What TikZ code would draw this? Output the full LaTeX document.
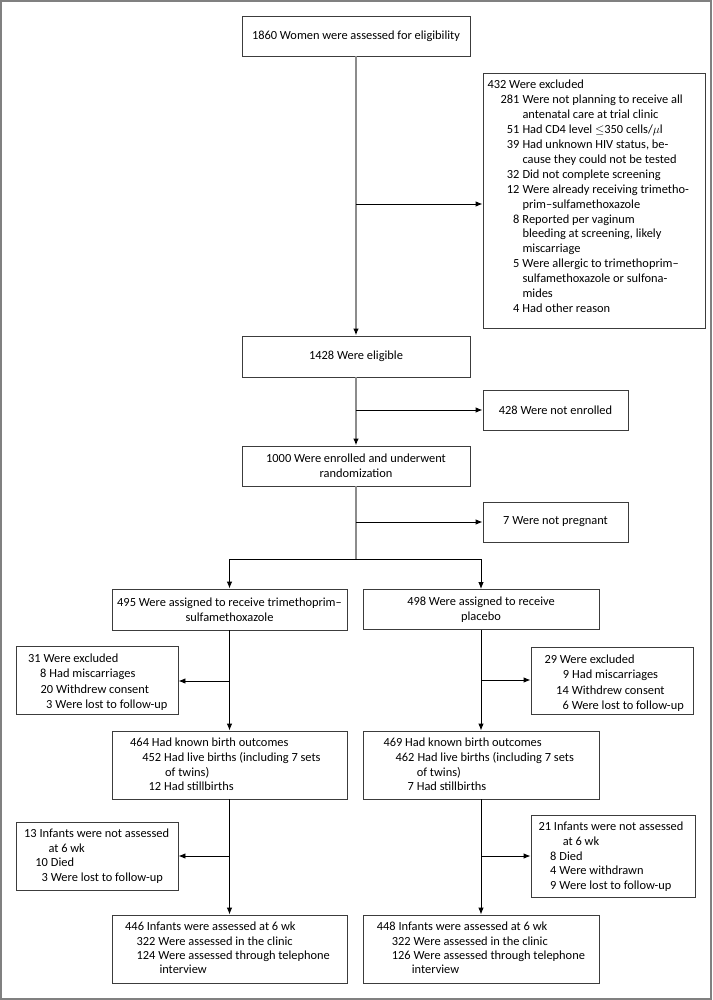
\documentclass[tikz,border=0pt]{standalone}
\usepackage{fontspec}
\setmainfont{Carlito}
\usetikzlibrary{arrows.meta}
\definecolor{boxc}{HTML}{3C3C3C}
\definecolor{trunkc}{HTML}{8C8C8C}
\definecolor{framec}{HTML}{808080}
\newcommand\fs[1]{\fontsize{12.4}{#1}\selectfont}
\newcommand\ind[1]{\hspace*{#1pt}}
\newcommand\nm[2]{\makebox[\dimexpr#1pt-3pt\relax][r]{#2}\hspace{3pt}}
\begin{document}
\begin{tikzpicture}[x=1pt,y=-1pt,
  box/.style={draw=boxc, line width=0.9pt, inner sep=0pt, align=center, font=\fs{15}},
  txt/.style={inner sep=0pt, anchor=base west},
  trunk/.style={draw=trunkc, line width=1.8pt},
  tarr/.style={trunk, -{Latex[length=7pt,width=5.5pt,color=black]}},
  arr/.style={draw=black, line width=0.9pt, -{Latex[length=7pt,width=5.5pt]}},
  ln/.style={draw=black, line width=0.9pt}]
\useasboundingbox (0,0) rectangle (712,1000);
\draw[framec, line width=2pt] (1,1) rectangle (711,999);

% ---------- top column ----------
\node[box, minimum width=228pt, minimum height=40pt] (b1) at (356,36) {1860 Women were assessed for eligibility};
\node[box, minimum width=222pt, minimum height=255pt] (excl) at (594,200.5) {};
\node[txt] (texcl) at (487.3,89) {\fs{14.9}\begin{tabular}[t]{@{}l@{}}
432 Were excluded\\
\nm{35}{281}Were not planning to receive all\\
\ind{35}antenatal care at trial clinic\\
\nm{35}{51}Had CD4 level \ensuremath{\le}350 cells/\ensuremath{\mu}l\\
\nm{35}{39}Had unknown HIV status, be-\\
\ind{35}cause they could not be tested\\
\nm{35}{32}Did not complete screening\\
\nm{35}{12}Were already receiving trimetho-\\
\ind{35}prim–sulfamethoxazole\\
\nm{35}{8}Reported per vaginum\\
\ind{35}bleeding at screening, likely\\
\ind{35}miscarriage\\
\nm{35}{5}Were allergic to trimethoprim–\\
\ind{35}sulfamethoxazole or sulfona-\\
\ind{35}mides\\
\nm{35}{4}Had other reason
\end{tabular}};
\node[box, minimum width=228pt, minimum height=41pt] (elig) at (356,356.5) {1428 Were eligible};
\node[box, minimum width=145pt, minimum height=40pt] (notenr) at (555.5,410) {428 Were not enrolled};
\node[box, minimum width=228pt, minimum height=40pt] (enr) at (356,466) {1000 Were enrolled and underwent\\randomization};
\node[box, minimum width=145pt, minimum height=40pt] (notpreg) at (555.5,522) {7 Were not pregnant};

% ---------- arms ----------
\node[box, minimum width=235pt, minimum height=41pt] (tms) at (229.5,609.5) {495 Were assigned to receive trimethoprim–\\sulfamethoxazole};
\node[box, minimum width=236pt, minimum height=40pt] (plc) at (481,609.5) {498 Were assigned to receive\\placebo};

\node[box, minimum width=162pt, minimum height=68pt] (lex1) at (97,680) {};
\node[txt] (tlex1) at (28,662.7) {\fs{15.2}\begin{tabular}[t]{@{}l@{}}
31 Were excluded\\
\nm{21.3}{8}Had miscarriages\\
\nm{28}{20}Withdrew consent\\
\nm{27.3}{3}Were lost to follow-up
\end{tabular}};
\node[box, minimum width=162pt, minimum height=67pt] (rex1) at (612,680.5) {};
\node[txt] (trex1) at (544.3,663.7) {\fs{15.2}\begin{tabular}[t]{@{}l@{}}
29 Were excluded\\
\nm{27.7}{9}Had miscarriages\\
\nm{27.3}{14}Withdrew consent\\
\nm{27.3}{6}Were lost to follow-up
\end{tabular}};

\node[box, minimum width=235pt, minimum height=68pt] (lbirth) at (229.5,765) {};
\node[txt] (tlbirth) at (130,746.7) {\fs{14.7}\begin{tabular}[t]{@{}l@{}}
464 Had known birth outcomes\\
\nm{34}{452}Had live births (including 7 sets\\
\ind{35}of twins)\\
\nm{34}{12}Had stillbirths
\end{tabular}};
\node[box, minimum width=236pt, minimum height=68pt] (rbirth) at (481,765) {};
\node[txt] (trbirth) at (383.3,746.7) {\fs{14.7}\begin{tabular}[t]{@{}l@{}}
469 Had known birth outcomes\\
\nm{34}{462}Had live births (including 7 sets\\
\ind{33.3}of twins)\\
\nm{33.3}{7}Had stillbirths
\end{tabular}};

\node[box, minimum width=162pt, minimum height=68pt] (lna) at (97,856) {};
\node[txt] (tlna) at (24,837.3) {\fs{14.7}\begin{tabular}[t]{@{}l@{}}
13 Infants were not assessed\\
\ind{24.3}at 6 wk\\
\nm{26.7}{10}Died\\
\nm{26.7}{3}Were lost to follow-up
\end{tabular}};
\node[box, minimum width=164pt, minimum height=82pt] (rna) at (613,856) {};
\node[txt] (trna) at (538.3,830.7) {\fs{14.75}\begin{tabular}[t]{@{}l@{}}
21 Infants were not assessed\\
\ind{24.3}at 6 wk\\
\nm{21}{8}Died\\
\nm{21}{4}Were withdrawn\\
\nm{21}{9}Were lost to follow-up
\end{tabular}};

\node[box, minimum width=235pt, minimum height=68pt] (lfin) at (229.5,949) {};
\node[txt] (tlfin) at (125,930.7) {\fs{14.4}\begin{tabular}[t]{@{}l@{}}
446 Infants were assessed at 6 wk\\
\nm{33.3}{322}Were assessed in the clinic\\
\nm{33.3}{124}Were assessed through telephone\\
\ind{34.3}interview
\end{tabular}};
\node[box, minimum width=236pt, minimum height=68pt] (rfin) at (481,949) {};
\node[txt] (trfin) at (376.7,930.7) {\fs{14.4}\begin{tabular}[t]{@{}l@{}}
448 Infants were assessed at 6 wk\\
\nm{36.7}{322}Were assessed in the clinic\\
\nm{36.7}{126}Were assessed through telephone\\
\ind{35}interview
\end{tabular}};

% ---------- connectors ----------
\coordinate (j1) at (356,204);
\coordinate (j2) at (356,410);
\coordinate (j3) at (356,522);
\coordinate (split) at (356,559);
\coordinate (sl) at (229.5,559);
\coordinate (sr) at (481,559);
\coordinate (j4) at (229.5,681);
\coordinate (j5) at (229.5,856);
\coordinate (j6) at (481,680);
\coordinate (j7) at (481,856);

\draw[tarr] (b1) -- (elig);
\draw[arr] (j1) -- (j1 -| excl.west);
\draw[tarr] (elig) -- (enr);
\draw[arr] (j2) -- (j2 -| notenr.west);
\draw[trunk] (enr.south) -- (split);
\draw[arr] (j3) -- (j3 -| notpreg.west);
\draw[ln] (sl) -- (sr);
\draw[arr] (sl) -- (tms.north);
\draw[arr] (sr) -- (plc.north);

\draw[arr] (tms) -- (lbirth);
\draw[arr] (j4) -- (j4 -| lex1.east);
\draw[arr] (lbirth) -- (lfin);
\draw[arr] (j5) -- (j5 -| lna.east);

\draw[arr] (plc) -- (rbirth);
\draw[arr] (j6) -- (j6 -| rex1.west);
\draw[arr] (rbirth) -- (rfin);
\draw[arr] (j7) -- (j7 -| rna.west);
\end{tikzpicture}
\end{document}
